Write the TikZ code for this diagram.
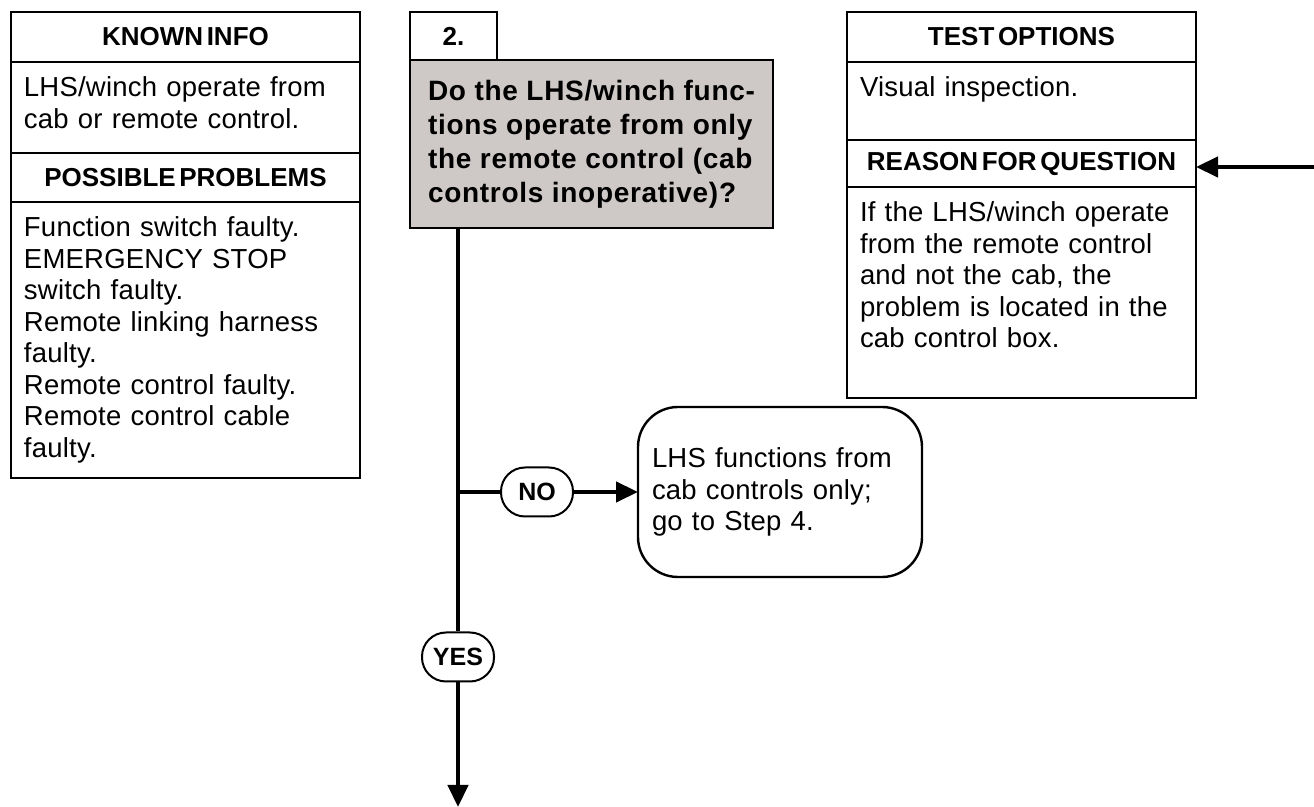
\documentclass[tikz,border=0pt]{standalone}
\usepackage{fontspec}
\setmainfont{Liberation Sans}
\newfontfamily\bodyfont{Liberation Sans}[LetterSpace=0.8]
\newfontfamily\headfont{Liberation Sans}[WordSpace=0.5]
\newfontfamily\questfont{Liberation Sans}[LetterSpace=2.5]
\usepackage{xcolor}
\usetikzlibrary{arrows.meta, positioning, math}
\definecolor{qgray}{RGB}{206,200,198}

\tikzset{
  band/.style={draw, line width=1.2pt, rectangle, outer sep=0pt, minimum width=174.5pt},
  headband/.style={band, font=\fontsize{13}{15.5}\headfont\bfseries},
  bodyband/.style={band, text width=161.5pt, inner xsep=6.5pt, inner ysep=0pt, text height=17.5pt, align=left, font=\fontsize{13.75}{15.75}\bodyfont},
  stepbox/.style={draw, line width=1.2pt, outer sep=0pt, minimum width=43.5pt, minimum height=24pt, font=\fontsize{13}{15.5}\headfont\bfseries},
  questbox/.style={draw, line width=1.4pt, fill=qgray, outer sep=0pt, minimum width=181.5pt, minimum height=84pt, align=left, font=\fontsize{14}{17}\questfont\bfseries},
  pill/.style={draw, line width=1pt, fill=white, rounded corners=12pt, minimum width=36pt, minimum height=24.5pt, inner sep=0pt, font=\fontsize{12.5}{14}\headfont\bfseries},
  resultbox/.style={draw, line width=1.2pt, rounded corners=20pt, outer sep=0pt, text width=128pt, inner xsep=7pt, minimum height=85pt, align=left, font=\fontsize{13.75}{15.75}\bodyfont},
  flow/.style={line width=2.25pt},
  flowarrow/.style={flow, -{Triangle[length=11pt,width=10pt]}}
}

\begin{document}
\begin{tikzpicture}[x=0.5pt, y=-0.5pt]
\tikzmath{
\tx=458;
\by=492;
}
\useasboundingbox (0,0) rectangle (1314,807);

% left column
\node[headband, minimum height=25pt, anchor=north west] (kihead) at (11,12) {KNOWN INFO};
\node[bodyband, text depth=28pt, below=0pt of kihead] (kibody) {LHS/winch operate from\\cab or remote control.};
\node[headband, minimum height=24.5pt, below=0pt of kibody] (pphead) {POSSIBLE PROBLEMS};
\node[bodyband, text depth=120.5pt, below=0pt of pphead] (ppbody) {Function switch faulty.\\EMERGENCY STOP\\switch faulty.\\Remote linking harness\\faulty.\\Remote control faulty.\\Remote control cable\\faulty.};

% right column
\node[headband, minimum height=25pt, anchor=north west] (tohead) at (847,12) {TEST OPTIONS};
\node[bodyband, text depth=21.5pt, below=0pt of tohead] (tobody) {Visual inspection.};
\node[headband, minimum height=23.5pt, below=0pt of tobody] (rqhead) {REASON FOR QUESTION};
\node[bodyband, text depth=88pt, below=0pt of rqhead] (rqbody) {If the LHS/winch operate\\from the remote control\\and not the cab, the\\problem is located in the\\cab control box.};

% step 2
\node[stepbox, anchor=north west] (step) at (410,12) {2.};
\node[questbox, anchor=north west] (question) at (step.south west) {Do the LHS/winch func-\\tions operate from only\\the remote control (cab\\controls inoperative)?};

\coordinate (tx) at (\tx,0);
\coordinate (noroot) at (\tx,\by);
\coordinate (trunkend) at (\tx,807);
\coordinate (inarrow) at (1314,167);
\node[pill] (yes) at (\tx,657) {YES};
\node[pill] (no) at (537,\by) {NO};
\node[resultbox, anchor=west] (result) at (638,\by) {LHS functions from\\cab controls only;\\go to Step 4.};

\draw[flow] (tx |- question.south) -- (yes);
\draw[flowarrow] (yes) -- (trunkend);
\draw[flow] (noroot) -- (no);
\draw[flowarrow] (no) -- (result);
\draw[flowarrow] (inarrow) -- (inarrow -| rqhead.east);

\end{tikzpicture}
\end{document}
